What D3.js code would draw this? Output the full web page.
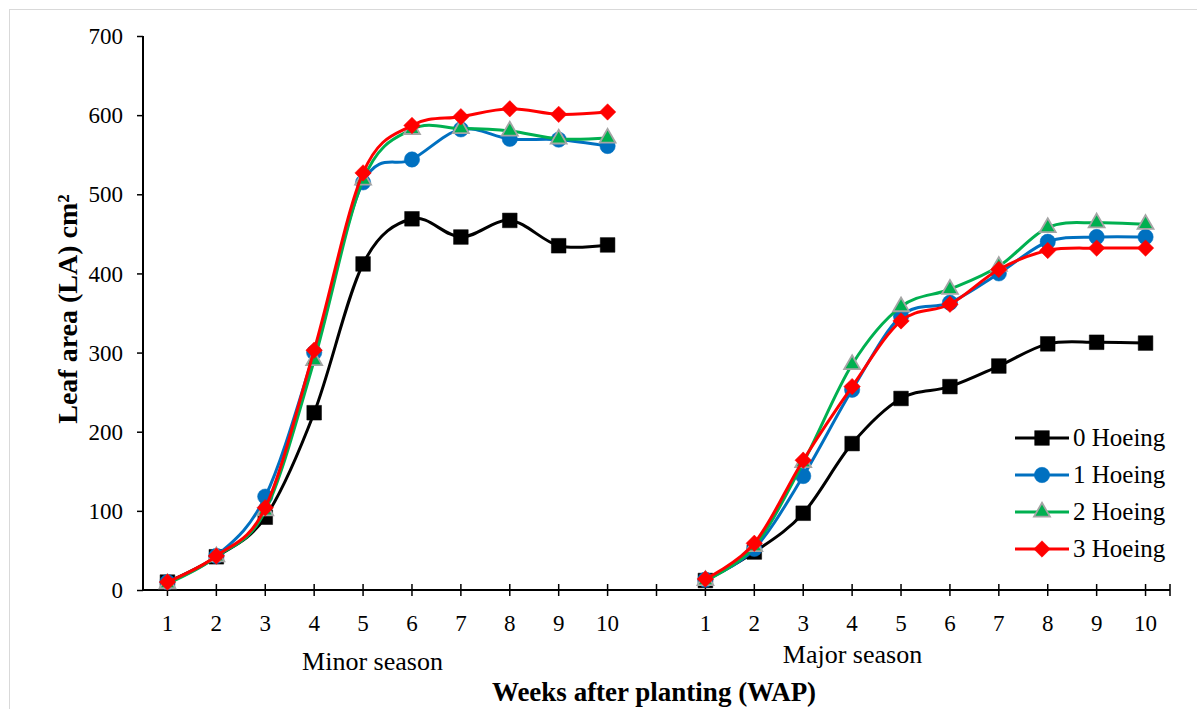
<!DOCTYPE html>
<html>
<head>
<meta charset="utf-8">
<script src="https://cdn.jsdelivr.net/npm/d3@7"></script>
<style>
  body { margin: 0; background: #fff; }
  text { font-family: "Liberation Serif", "Times New Roman", serif; fill: #000; }
</style>
</head>
<body>
<div id="chart"></div>
<script>
var width = 1197,
    height = 709;

// data
var weeks = ["1", "2", "3", "4", "5", "6", "7", "8", "9", "10"];
var seasons = ["Minor season", "Major season"];
var yTicks = [0, 100, 200, 300, 400, 500, 600, 700];
var seriesNames = ["0 Hoeing", "1 Hoeing", "2 Hoeing", "3 Hoeing"];

var minor0 = [10, 42, 92, 224, 412, 469, 446, 467, 435, 436];
var minor1 = [10, 43, 118, 300, 515, 544, 582, 570, 569, 561];
var minor2 = [8, 42, 100, 290, 518, 582, 583, 580, 570, 571];
var minor3 = [10, 43, 104, 303, 527, 587, 598, 608, 601, 604];

var major0 = [12, 48, 97, 185, 242, 257, 283, 311, 313, 312];
var major1 = [13, 52, 144, 253, 346, 363, 400, 440, 446, 446];
var major2 = [12, 55, 161, 285, 358, 380, 409, 458, 464, 462];
var major3 = [14, 59, 164, 257, 340, 361, 405, 429, 432, 432];

var styles = [
  { color: "#000000", shape: d3.symbolSquare, size: 215, stroke: "#000000", rot: 0 },
  { color: "#0070C0", shape: d3.symbolCircle, size: 185, stroke: "#0070C0", rot: 0 },
  { color: "#00B050", shape: d3.symbolTriangle, size: 110, stroke: "#A5A5A5", rot: 0 },
  { color: "#FF0000", shape: d3.symbolSquare, size: 135, stroke: "#FF0000", rot: 45 }
];

// categories: 10 minor weeks, one empty slot, 10 major weeks
var cats = weeks.map(function(w){ return "m" + w; })
  .concat(["gap"])
  .concat(weeks.map(function(w){ return "M" + w; }));

var x = d3.scaleBand().domain(cats).range([143, 1170]).padding(0);
var bw = x.bandwidth();
function cx(c) { return x(c) + bw / 2; }

var y = d3.scaleLinear().domain([0, 700]).range([590, 36]);

var svg = d3.select("#chart")
  .append("svg")
  .attr("width", width)
  .attr("height", height);

svg.append("rect")
  .attr("x", 9.5).attr("y", 9.5)
  .attr("width", 1200).attr("height", 710)
  .attr("fill", "none")
  .attr("stroke", "#d9d9d9");

// y axis
var yAxis = svg.append("g")
  .attr("transform", "translate(143,0)")
  .call(d3.axisLeft(y).tickValues(yTicks).tickSize(6).tickPadding(14));
yAxis.select(".domain").attr("stroke", "#000").attr("stroke-width", 2).attr("d", "M0," + y(700) + "V" + y(0));
yAxis.selectAll(".tick line").attr("stroke-width", 1.5);
yAxis.selectAll(".tick text")
  .style("font-family", "Liberation Serif")
  .style("font-size", "23px")
  .attr("dy", "0.33em");

// x axis line + crossing ticks
svg.append("line")
  .attr("x1", 143).attr("x2", 1170)
  .attr("y1", y(0)).attr("y2", y(0))
  .attr("stroke", "#000").attr("stroke-width", 2);

var tickPos = cats.map(cx).concat([1170]);
svg.selectAll(".xtick")
  .data(tickPos)
  .enter().append("line")
  .attr("class", "xtick")
  .attr("x1", function(d){ return d; })
  .attr("x2", function(d){ return d; })
  .attr("y1", y(0) - 6)
  .attr("y2", y(0) + 6)
  .attr("stroke", "#000")
  .attr("stroke-width", 1.5);

svg.selectAll(".xlab")
  .data(cats.filter(function(c){ return c != "gap"; }))
  .enter().append("text")
  .attr("class", "xlab")
  .attr("x", cx)
  .attr("y", 631)
  .attr("text-anchor", "middle")
  .style("font-size", "23px")
  .text(function(c){ return c.slice(1); });

// season labels
svg.append("text")
  .attr("x", (cx("m1") + cx("m10")) / 2 - 15)
  .attr("y", 670)
  .attr("text-anchor", "middle")
  .style("font-size", "26px")
  .text(seasons[0]);

svg.append("text")
  .attr("x", (cx("M1") + cx("M10")) / 2 - 73)
  .attr("y", 663)
  .attr("text-anchor", "middle")
  .style("font-size", "26px")
  .text(seasons[1]);

// axis titles
svg.append("text")
  .attr("x", 654)
  .attr("y", 701)
  .attr("text-anchor", "middle")
  .style("font-size", "27px")
  .style("font-weight", "bold")
  .text("Weeks after planting (WAP)");

svg.append("text")
  .attr("transform", "translate(77,309) rotate(-90)")
  .attr("text-anchor", "middle")
  .style("font-size", "28px")
  .style("font-weight", "bold")
  .text("Leaf area (LA) cm\u00B2");

// series
var minorData = [minor0, minor1, minor2, minor3];
var majorData = [major0, major1, major2, major3];

var line = d3.line()
  .x(function(d){ return d.x; })
  .y(function(d){ return d.y; })
  .curve(d3.curveCatmullRom.alpha(0));

function marker(sel, st, i) {
  sel.attr("d", d3.symbol().type(st.shape).size(st.size))
    .attr("fill", st.color)
    .attr("stroke", st.stroke)
    .attr("stroke-width", i == 2 ? 1.8 : 0.5);
}

seriesNames.forEach(function(name, i) {
  var st = styles[i];
  var segs = [
    minorData[i].map(function(v, k){ return { x: cx("m" + weeks[k]), y: y(v) }; }),
    majorData[i].map(function(v, k){ return { x: cx("M" + weeks[k]), y: y(v) }; })
  ];
  var g = svg.append("g").attr("class", "series");
  segs.forEach(function(pts) {
    g.append("path")
      .attr("d", line(pts))
      .attr("fill", "none")
      .attr("stroke", st.color)
      .attr("stroke-width", 3);
    g.selectAll(null)
      .data(pts)
      .enter().append("path")
      .attr("transform", function(d){ return "translate(" + d.x + "," + d.y + ") rotate(" + st.rot + ")"; })
      .call(marker, st, i);
  });
});

// legend
var legend = svg.append("g");
seriesNames.forEach(function(name, i) {
  var st = styles[i];
  var ly = 438 + i * 37;
  legend.append("line")
    .attr("x1", 1015).attr("x2", 1069)
    .attr("y1", ly).attr("y2", ly)
    .attr("stroke", st.color)
    .attr("stroke-width", 3);
  legend.append("path")
    .attr("transform", "translate(1042," + ly + ") rotate(" + st.rot + ")")
    .call(marker, st, i);
  legend.append("text")
    .attr("x", 1073)
    .attr("y", ly + 8)
    .style("font-size", "25px")
    .text(name);
});
</script>
</body>
</html>
